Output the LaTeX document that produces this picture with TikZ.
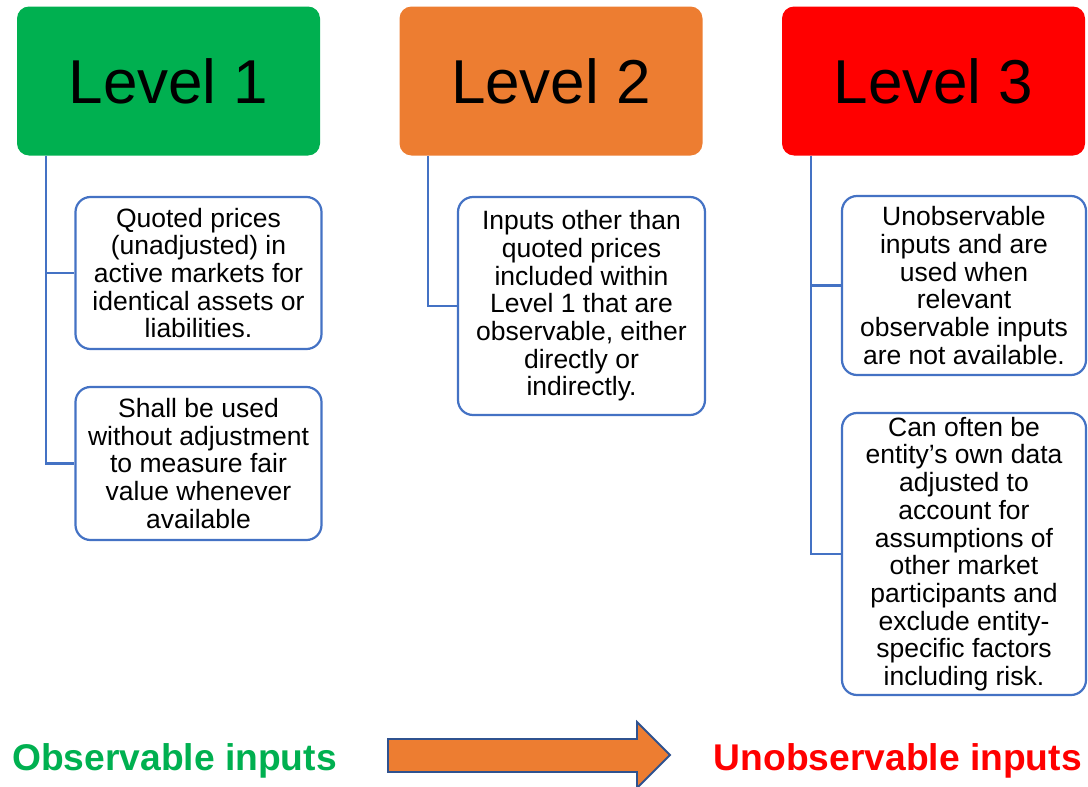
\documentclass[tikz,border=0pt]{standalone}
\usepackage{fontspec}
\setmainfont{Liberation Sans}
\definecolor{lvgreen}{RGB}{0,176,80}
\definecolor{lvorange}{RGB}{237,125,49}
\definecolor{lvred}{RGB}{255,0,0}
\definecolor{lineblue}{RGB}{68,114,196}
\definecolor{darkblue}{RGB}{47,82,143}
\tikzset{
    levelbox/.style={rounded corners=12pt, minimum width=303pt, minimum height=149pt,
        inner sep=0pt, font=\fontsize{62}{66}\selectfont},
    infobox/.style={draw=lineblue, line width=2.2pt, rounded corners=15pt, fill=white,
        inner sep=0pt, align=center, font=\fontsize{26.5}{27.7}\selectfont},
    link/.style={draw=lineblue, line width=2.2pt},
    scale label/.style={font=\fontsize{37.2}{40}\selectfont\bfseries}
}
\begin{document}
\begin{tikzpicture}[x=1pt, y=-1pt]
    \useasboundingbox (0,0) rectangle (1088,787);

    % Level headers
    \node[levelbox, fill=lvgreen] (l1) at (168.5,81) {Level 1};
    \node[levelbox, fill=lvorange] (l2) at (551,81) {Level 2};
    \node[levelbox, fill=lvred] (l3) at (933.5,81) {Level 3};

    % Level 1 details
    \node[infobox, minimum width=246pt, minimum height=152pt] (q1) at (198.5,273)
        {Quoted prices\\(unadjusted) in\\active markets for\\identical assets or\\liabilities.};
    \node[infobox, minimum width=246pt, minimum height=153pt] (q2) at (198.5,463.5)
        {Shall be used\\without adjustment\\to measure fair\\value whenever\\available};

    % Level 2 details
    \node[infobox, minimum width=247pt, minimum height=218pt] (o1) at (581.5,306)
        {Inputs other than\\quoted prices\\included within\\Level 1 that are\\observable, either\\directly or\\indirectly.};

    % Level 3 details
    \node[infobox, minimum width=244pt, minimum height=179pt] (u1) at (964,285.5)
        {Unobservable\\inputs and are\\used when\\relevant\\observable inputs\\are not available.};
    \node[infobox, minimum width=244pt, minimum height=282pt] (u2) at (964,554)
        {Can often be\\entity’s own data\\adjusted to\\account for\\assumptions of\\other market\\participants and\\exclude entity-\\specific factors\\including risk.};

    % Connectors
    \draw[link] ([xshift=29pt]l1.south west) |- (q1.west);
    \draw[link] ([xshift=29pt]l1.south west) |- (q2.west);
    \draw[link] ([xshift=29pt]l2.south west) |- (o1.west);
    \draw[link] ([xshift=29pt]l3.south west) |- (u1.west);
    \draw[link] ([xshift=29pt]l3.south west) |- (u2.west);

    % Bottom scale
    \node[scale label, text=lvgreen, anchor=base west, inner sep=0pt] (obs) at (12,770) {Observable inputs};
    \node[scale label, text=lvred, anchor=base east, inner sep=0pt] (unobs) at (1082,770) {Unobservable inputs};
    \draw[fill=lvorange, draw=darkblue, line width=1.8pt]
        (388,739) -- (637,739) -- (637,722) -- (670,755) -- (637,788) -- (637,772) -- (388,772) -- cycle;
\end{tikzpicture}
\end{document}
